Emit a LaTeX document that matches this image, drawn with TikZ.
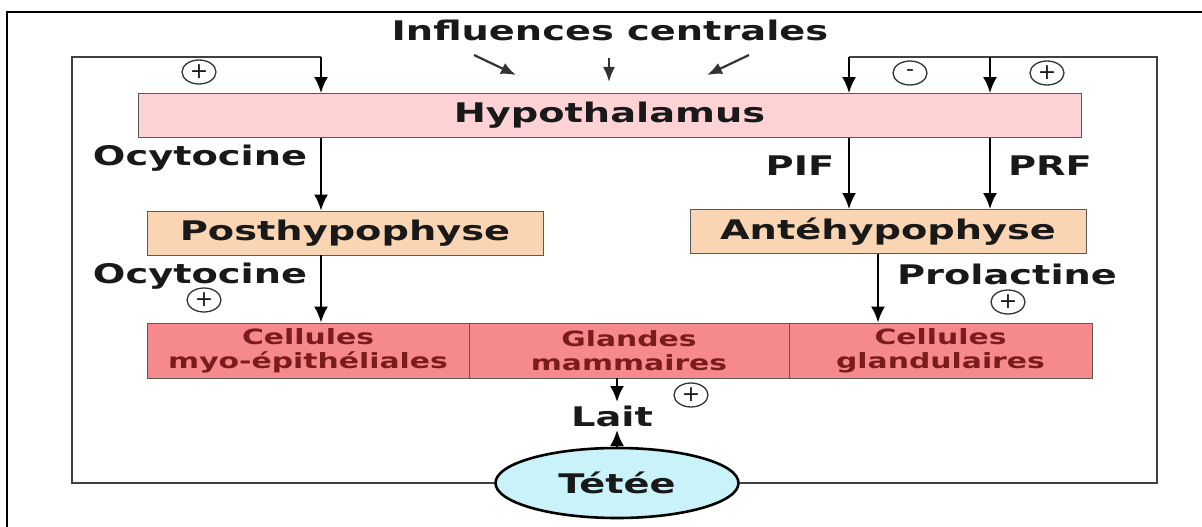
\documentclass[tikz,border=0pt]{standalone}
\usepackage{fontspec}
\newfontfamily\etire{DejaVu Sans}[FakeStretch=1.42]
\newfontfamily\signefont{DejaVu Sans}
\usepackage{tikz}
\usetikzlibrary{positioning,arrows,arrows.meta,shapes}

\definecolor{rosehypo}{HTML}{FFD3D6}
\definecolor{peche}{HTML}{F9D5B3}
\definecolor{saumon}{HTML}{F6898B}
\definecolor{bordeaux}{HTML}{7A1C1C}
\definecolor{cyanclair}{HTML}{C9F3F8}
\definecolor{cadre}{HTML}{404040}

\begin{document}
\begin{tikzpicture}[x=1pt,y=-1pt,
	every node/.style={font=\etire\bfseries\fontsize{27}{31}\selectfont, text=black!90},
	boite/.style={draw=black!65, line width=0.8pt, inner sep=0pt, minimum height=44pt},
	cellule/.style={boite, fill=saumon, minimum height=55pt, align=center, text=bordeaux, font=\etire\bfseries\fontsize{21}{24}\selectfont},
	fleche/.style={-{Latex[length=16pt,width=14pt]}, line width=2.4pt},
	petite/.style={-{Latex[length=15pt,width=12pt]}, line width=2.2pt, draw=black!80},
	retour/.style={draw=cadre, line width=1.4pt},
	signe/.style={ellipse, draw=black!80, line width=1.3pt, minimum width=34pt, minimum height=24pt, inner sep=0pt, font=\signefont\fontsize{22}{22}\selectfont}]
	\useasboundingbox (0,0) rectangle (1202,527);
	% cadre
	\draw[line width=2pt] (7,540) -- (7,12) -- (1215,12);

	\node (titre) at (610,30) {Influences centrales};

	\node[boite, fill=rosehypo, minimum width=943pt] (hypo) at (609.5,115.5) {Hypothalamus};
	\node[boite, fill=peche, minimum width=396pt] (post) at (345,233) {Posthypophyse};
	\node[boite, fill=peche, minimum width=396pt] (ante) at (888,231.5) {Antéhypophyse};

	\node[cellule, minimum width=322pt] (myo) at (308,350.5) {Cellules\\myo-épithéliales};
	\node[cellule, minimum width=320pt] (glandes) at (629,350.5) {Glandes\\mammaires};
	\node[cellule, minimum width=303pt] (glandul) at (940.5,350.5) {Cellules\\glandulaires};

	\node (lait) at (612,416) {Lait};
	\node[ellipse, draw, line width=2.6pt, fill=cyanclair, minimum width=243pt, minimum height=70pt] (tetee) at (617,483) {Tétée};

	% etiquettes
	\node (ocyA) at (200,158) {Ocytocine};
	\node (ocyB) at (200,276) {Ocytocine};
	\node (pif) at (800,166) {PIF};
	\node (prf) at (1050,166) {PRF};
	\node (prol) at (1007,274) {Prolactine};

	\node[signe] (pA) at (199,72) {+};
	\node[signe] (moins) at (910,73) {-};
	\node[signe] (pC) at (1047,73) {+};
	\node[signe] (pB) at (204,300) {+};
	\node[signe] (pD) at (1008,302) {+};
	\node[signe] (pE) at (691,395) {+};

	\coordinate (xo) at (321,0);
	\coordinate (xpif) at (849,0);
	\coordinate (xprf) at (990,0);
	\coordinate (xprol) at (878,0);
	\coordinate (hg) at (72,57);
	\coordinate (hd) at (1157,57);

	% boucle de la tetee
	\draw[retour] (tetee.west) -| (hg) -- (hg -| xo);
	\draw[retour] (tetee.east) -| (hd) -- (hd -| xpif);
	\draw[fleche] (hg -| xo) -- (hypo.north -| xo);
	\draw[fleche] (hd -| xpif) -- (hypo.north -| xpif);
	\draw[fleche] (hd -| xprf) -- (hypo.north -| xprf);

	% influences centrales
	\coordinate (i1) at (474,55);
	\coordinate (i2) at (516,75);
	\coordinate (i3) at (609,58);
	\coordinate (i4) at (609,82);
	\coordinate (i5) at (749,55);
	\coordinate (i6) at (707,75);
	\draw[petite] (i1) -- (i2);
	\draw[petite] (i3) -- (i4);
	\draw[petite] (i5) -- (i6);

	\draw[fleche] (hypo.south -| xo) -- (post.north -| xo);
	\draw[fleche] (hypo.south -| xpif) -- (ante.north -| xpif);
	\draw[fleche] (hypo.south -| xprf) -- (ante.north -| xprf);
	\draw[fleche] (post.south -| xo) -- (myo.north -| xo);
	\draw[fleche] (ante.south -| xprol) -- (glandul.north -| xprol);
	\draw[fleche] (glandes.south -| tetee.north) -- (lait.north -| tetee.north);
	\draw[fleche] (tetee.north) -- (lait.south -| tetee.north);
\end{tikzpicture}
\end{document}
